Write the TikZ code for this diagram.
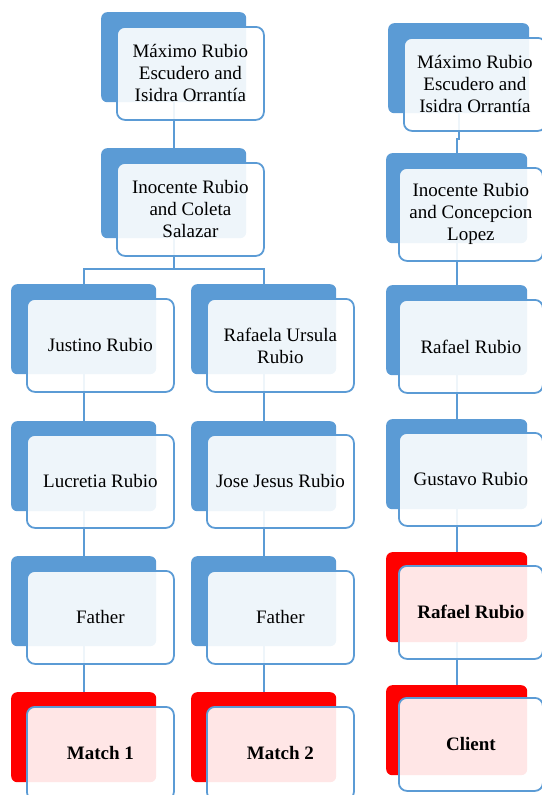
\documentclass[tikz,border=0pt]{standalone}
\usepackage{fontspec}
\setmainfont{Liberation Serif}
\usetikzlibrary{backgrounds}
\definecolor{sblue}{HTML}{5B9BD5}
\definecolor{sred}{HTML}{FF0000}
\tikzset{
  backbox/.style={rectangle, rounded corners=6pt, fill=sblue, minimum width=145pt, minimum height=90pt, inner sep=0pt, anchor=north west},
  backred/.style={backbox, fill=sred},
  frontbox/.style={rectangle, rounded corners=8pt, draw=sblue, line width=1.8pt, fill=white, fill opacity=0.9, text opacity=1, minimum width=147pt, minimum height=93pt, inner sep=0pt, align=center, anchor=north west, font=\fontsize{19}{22}\selectfont},
  frontbold/.style={frontbox, font=\fontsize{19}{22}\selectfont\bfseries},
  link/.style={draw=sblue, line width=2pt}
}
\begin{document}
\begin{tikzpicture}[x=1pt, y=-1pt]
\useasboundingbox (0,0) rectangle (541,795);
% top chain
\node[backbox] (b1) at (101,12) {};
\node[frontbox] (f1) at (116,26) {Máximo Rubio\\Escudero and\\Isidra Orrantía};
\node[backbox] (b2) at (101,148) {};
\node[frontbox] (f2) at (116,162) {Inocente Rubio\\and Coleta\\Salazar};
% left column
\node[backbox] (lb3) at (11,284) {};
\node[frontbox] (lf3) at (26,298) {Justino Rubio};
\node[backbox] (lb4) at (11,421) {};
\node[frontbox] (lf4) at (26,434) {Lucretia Rubio};
\node[backbox] (lb5) at (11,556) {};
\node[frontbox] (lf5) at (26,570) {Father};
\node[backred] (lb6) at (11,692) {};
\node[frontbold] (lf6) at (26,706) {Match 1};
% middle column
\node[backbox] (mb3) at (191,284) {};
\node[frontbox] (mf3) at (206,298) {Rafaela Ursula\\Rubio};
\node[backbox] (mb4) at (191,421) {};
\node[frontbox] (mf4) at (206,434) {Jose Jesus Rubio};
\node[backbox] (mb5) at (191,556) {};
\node[frontbox] (mf5) at (206,570) {Father};
\node[backred] (mb6) at (191,692) {};
\node[frontbold] (mf6) at (206,706) {Match 2};
% right column
\node[backbox, minimum width=141pt] (rb1) at (388,23) {};
\node[frontbox, minimum width=142pt] (rf1) at (403,37) {Máximo Rubio\\Escudero and\\Isidra Orrantía};
\node[backbox, minimum width=141pt] (rb2) at (386,153) {};
\node[frontbox, minimum width=144pt] (rf2) at (398,167) {Inocente Rubio\\and Concepcion\\Lopez};
\node[backbox, minimum width=141pt] (rb3) at (386,285) {};
\node[frontbox, minimum width=144pt] (rf3) at (398,299) {Rafael Rubio};
\node[backbox, minimum width=141pt] (rb4) at (386,419) {};
\node[frontbox, minimum width=144pt] (rf4) at (398,432) {Gustavo Rubio};
\node[backred, minimum width=141pt] (rb5) at (386,552) {};
\node[frontbold, minimum width=144pt] (rf5) at (398,565) {Rafael Rubio};
\node[backred, minimum width=141pt] (rb6) at (386,685) {};
\node[frontbold, minimum width=144pt] (rf6) at (398,697) {Client};
% connectors
\begin{scope}[on background layer]
\draw[link] (b1.south) -- (b2.north);
\draw[link] (b2.south) -- ++(0,31) -| (lb3.north);
\draw[link] (b2.south) -- ++(0,31) -| (mb3.north);
\draw[link] (lb3.south) -- (lb4.north);
\draw[link] (lb4.south) -- (lb5.north);
\draw[link] (lb5.south) -- (lb6.north);
\draw[link] (mb3.south) -- (mb4.north);
\draw[link] (mb4.south) -- (mb5.north);
\draw[link] (mb5.south) -- (mb6.north);
\draw[link] (rb1.south) -- ++(0,26) -| (rb2.north);
\draw[link] (rb2.south) -- (rb3.north);
\draw[link] (rb3.south) -- (rb4.north);
\draw[link] (rb4.south) -- (rb5.north);
\draw[link] (rb5.south) -- (rb6.north);
\end{scope}
\end{tikzpicture}
\end{document}
